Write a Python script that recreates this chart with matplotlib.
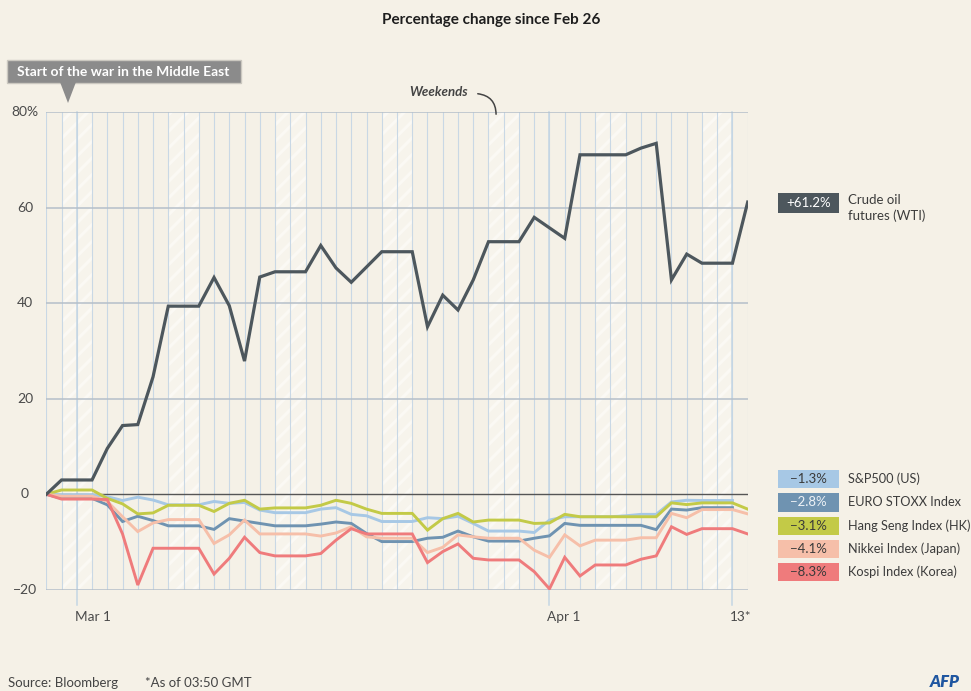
import numpy as np
import matplotlib
matplotlib.use("Agg")
import matplotlib.pyplot as plt
from matplotlib.patches import Rectangle, Polygon, FancyArrowPatch

plt.rcParams['font.family'] = ['Lato', 'DejaVu Sans']
plt.rcParams['hatch.linewidth'] = 2.2

# day index 0 = Feb 26 close, one step per calendar day, 46 = Apr 13*
tick_pos = [2, 33, 45]
tick_labels = ['Mar 1', 'Apr 1', '13*']
weekend_starts = [1, 8, 15, 22, 29, 36, 43]

oil = [0, 3, 3, 3, 9.6, 14.4, 14.6, 24.6, 39.4, 39.4, 39.4,
       45.4, 39.5, 27.9, 45.5, 46.6, 46.6, 46.6, 52.1, 47.4, 44.4,
       47.6, 50.8, 50.8, 50.8, 35.1, 41.7, 38.6, 44.9, 52.9, 52.9,
       52.9, 58.0, 55.8, 53.6, 71.1, 71.1, 71.1, 71.1, 72.5, 73.5,
       44.9, 50.3, 48.4, 48.4, 48.4, 61.2]
sp500 = [0, -0.1, -0.1, -0.1, -0.5, -1.3, -0.6, -1.2, -2.2, -2.2, -2.2,
         -1.5, -1.9, -1.7, -3.3, -3.85, -3.85, -3.85, -3.1, -2.8, -4.2,
         -4.5, -5.7, -5.7, -5.7, -4.9, -5.1, -4.6, -6.1, -7.7, -7.7,
         -7.7, -8.0, -5.4, -4.7, -4.7, -4.7, -4.7, -4.5, -4.2, -4.2,
         -1.6, -1.25, -1.3, -1.3, -1.3]
eurostoxx = [0, -0.85, -0.85, -0.85, -2.2, -5.7, -4.6, -5.5, -6.6, -6.6, -6.6,
             -7.35, -5.1, -5.6, -6.1, -6.6, -6.6, -6.6, -6.25, -5.8, -6.1,
             -8.2, -9.9, -9.9, -9.9, -9.2, -9.0, -7.7, -8.9, -9.8, -9.8,
             -9.8, -9.2, -8.7, -6.1, -6.5, -6.5, -6.5, -6.5, -6.5, -7.4,
             -3.1, -3.3, -2.8, -2.8, -2.8]
hangseng = [0, 0.9, 0.9, 0.9, -0.85, -2.0, -4.1, -3.9, -2.3, -2.3, -2.3,
            -3.6, -1.9, -1.25, -3.1, -2.85, -2.85, -2.85, -2.3, -1.25, -1.9,
            -3.1, -4.0, -4.0, -4.0, -7.5, -5.1, -4.0, -5.8, -5.4, -5.4,
            -5.4, -6.1, -6.0, -4.2, -4.7, -4.7, -4.7, -4.7, -4.7, -4.7,
            -1.8, -2.15, -1.8, -1.8, -1.8, -3.1]
nikkei = [0, -0.4, -0.4, -0.4, -1.5, -4.7, -7.8, -6.0, -5.3, -5.3, -5.3,
          -10.3, -8.5, -5.4, -8.3, -8.3, -8.3, -8.3, -8.75, -8.1, -6.8,
          -8.9, -9.2, -9.2, -9.2, -12.2, -11.1, -8.5, -8.9, -9.2, -9.2,
          -9.2, -11.7, -13.2, -8.5, -10.8, -9.6, -9.6, -9.6, -9.1, -9.1,
          -4.0, -4.9, -3.2, -3.2, -3.2, -4.1]
kospi = [0, -1.0, -1.0, -1.0, -1.1, -8.3, -19.0, -11.3, -11.3, -11.3, -11.3,
         -16.7, -13.4, -9.0, -12.2, -12.9, -12.9, -12.9, -12.4, -9.6, -7.2,
         -8.3, -8.3, -8.3, -8.3, -14.3, -12.0, -10.4, -13.4, -13.75, -13.75,
         -13.75, -16.2, -19.8, -13.2, -17.1, -14.8, -14.8, -14.8, -13.6, -12.9,
         -6.8, -8.4, -7.2, -7.2, -7.2, -8.3]

names = ['S&P500 (US)', 'EURO STOXX Index', 'Hang Seng Index (HK)',
         'Nikkei Index (Japan)', 'Kospi Index (Korea)']
last_labels = ['\u22121.3%', '\u22122.8%', '\u22123.1%', '\u22124.1%', '\u22128.3%']
colors = ['#a7c8e5', '#6f93b1', '#c3ca47', '#f6bfa9', '#ef7b7c']
label_colors = ['#3a3a3a', '#eef2f6', '#3a3a3a', '#3a3a3a', '#3a3a3a']
oil_color = '#4d575d'
bg = '#f5f1e7'

W, H = 971, 691
def fx(x):
    return x / W
def fy(y):
    return 1 - y / H

fig = plt.figure(figsize=(W / 100, H / 100), dpi=100, facecolor=bg)
ax = fig.add_axes([fx(46.3), fy(589.8), fx(747.7) - fx(46.3), fy(112.3) - fy(589.8)])
ax.set_facecolor(bg)
ax.set_xlim(0, 46)
ax.set_ylim(-20, 80)
for s in ax.spines.values():
    s.set_visible(False)
ax.set_xticks([])
ax.set_yticks([])

# weekends
for s in weekend_starts:
    ax.axvspan(s, s + 2, facecolor='#f7f4ec', edgecolor='#fbf9f4', hatch='//', lw=0, zorder=0)

# day lines
for d in range(47):
    ax.axvline(d, color='#c9d8e5', lw=0.8, zorder=1)
for p in tick_pos:
    ax.plot([p, p], [-23.2, 80], color='#c4d6e4', lw=1.1, zorder=1, clip_on=False)

# horizontal grid
for v in [-20, 20, 40, 60, 80]:
    ax.axhline(v, color='#b5bfc9', lw=1.1, zorder=1)
ax.axhline(0, color='#555555', lw=1.0, zorder=2)

# y labels
for v in [80, 60, 40, 20, 0, -20]:
    txt = '80%' if v == 80 else str(v).replace('-', '\u2212')
    yy = 494.3 - v * 4.775
    fig.text(fx(25), fy(yy), txt, ha='center', va='center', fontsize=10, color='#4a4a4a')

# x labels
for p, lab in zip(tick_pos, tick_labels):
    ax.text(p - 0.15, -25.7, lab, ha='left', va='center', fontsize=9.8, color='#4a4a4a', clip_on=False)

# lines
days = np.arange(47)
order = [3, 0, 1, 2, 4]
series = [sp500, eurostoxx, hangseng, nikkei, kospi]
for k in order:
    vals = series[k]
    ax.plot(days[:len(vals)], vals, color=colors[k], lw=2.1, zorder=3 + k * 0.1,
            solid_joinstyle='miter')
ax.plot(days, oil, color=oil_color, lw=2.3, zorder=4, solid_joinstyle='miter')

# title
fig.text(fx(491), fy(20), 'Percentage change since Feb 26', ha='center', va='center',
         fontsize=11, fontweight='bold', color='#1e1e1e')

# war annotation
fig.patches.append(Rectangle((fx(7), fy(83)), fx(234), fy(60) - fy(83), transform=fig.transFigure,
                             facecolor='#8b8b8b', edgecolor='#cbc8c0', lw=1))
fig.patches.append(Polygon([(fx(60), fy(82)), (fx(76), fy(82)), (fx(68), fy(103))],
                           closed=True, transform=fig.transFigure, facecolor='#8b8b8b', lw=0))
fig.text(fx(123), fy(72), 'Start of the war in the Middle East', ha='center', va='center',
         fontsize=10, fontweight='bold', color='white')

# weekends note
fig.text(fx(468), fy(92), 'Weekends', ha='right', va='center', fontsize=9.5,
         fontweight='bold', fontstyle='italic', color='#444444')
fig.patches.append(FancyArrowPatch((fx(475), fy(93.5)), (fx(496), fy(117)), transform=fig.transFigure,
                                   arrowstyle='-', connectionstyle='arc3,rad=-0.5',
                                   color='#444444', lw=1.1))

# legend: oil
fig.patches.append(Rectangle((fx(778), fy(212.5)), fx(61), fy(193.5) - fy(212.5),
                             transform=fig.transFigure, facecolor=oil_color, lw=0))
fig.text(fx(808.5), fy(203), '+61.2%', ha='center', va='center', fontsize=9.5, color='white')
fig.text(fx(848), fy(200), 'Crude oil', ha='left', va='center', fontsize=9.5, color='#3c3c3c')
fig.text(fx(848), fy(216), 'futures (WTI)', ha='left', va='center', fontsize=9.5, color='#3c3c3c')

# legend: indices
row_y = [479, 502.5, 525.8, 549, 571.8]
for k in range(5):
    yc = row_y[k]
    fig.patches.append(Rectangle((fx(778), fy(yc + 9.2)), fx(61), fy(yc - 9.2) - fy(yc + 9.2),
                                 transform=fig.transFigure, facecolor=colors[k], lw=0))
    fig.text(fx(808.5), fy(yc), last_labels[k], ha='center', va='center', fontsize=9.5,
             color=label_colors[k])
    fig.text(fx(848), fy(yc), names[k], ha='left', va='center', fontsize=9.2, color='#3c3c3c')

# footer
fig.text(fx(8), fy(683), 'Source: Bloomberg', ha='left', va='center', fontsize=9.5, color='#444444')
fig.text(fx(145), fy(683), '*As of 03:50 GMT', ha='left', va='center', fontsize=9.5, color='#444444')
fig.text(fx(930), fy(682), 'AFP', ha='left', va='center', fontsize=12, fontweight='heavy',
         fontstyle='italic', color='#1f56a0')

fig.savefig('out.png', dpi=100, facecolor=bg)
